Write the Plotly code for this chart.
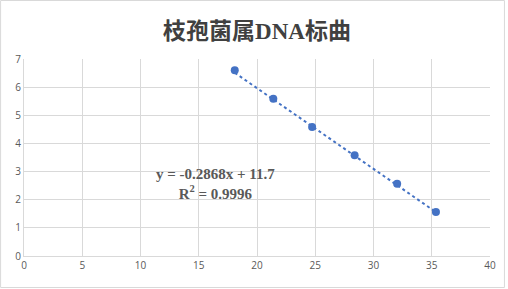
import plotly.graph_objects as go

title = "枝孢菌属DNA标曲"
ct_values = [18.09, 21.40, 24.73, 28.38, 32.03, 35.36]
log_values = [6.60, 5.59, 4.58, 3.58, 2.57, 1.56]
slope, intercept = -0.2868, 11.7
eq_text = "y = -0.2868x + 11.7"
r2_text = "R<sup>2</sup> = 0.9996"
x_ticks = [0, 5, 10, 15, 20, 25, 30, 35, 40]
y_ticks = [0, 1, 2, 3, 4, 5, 6, 7]

W, H = 508, 289
ml, mr, mt, mb = 24, 16, 59, 33
pw, ph = W - ml - mr, H - mt - mb

xl = [min(ct_values), max(ct_values)]
yl = [slope * v + intercept for v in xl]

fig = go.Figure()
fig.add_trace(go.Scatter(x=xl, y=yl, mode="lines",
                         line=dict(color="#4472C4", width=2, dash="dot"),
                         hoverinfo="skip", showlegend=False))
fig.add_trace(go.Scatter(x=ct_values, y=log_values, mode="markers",
                         marker=dict(color="#4472C4", size=8),
                         showlegend=False))

fig.add_annotation(x=(216 - ml) / pw, y=(H - mb - 184) / ph, xref="paper", yref="paper",
                   text="<b>" + eq_text + "</b><br><b>" + r2_text + "</b>",
                   showarrow=False, align="center", xanchor="center", yanchor="middle",
                   font=dict(family="Liberation Serif", size=15, color="#595959"))

# outer border
fig.add_shape(type="rect", xref="paper", yref="paper",
              x0=(0.5 - ml) / pw, x1=(W - 1.5 - ml) / pw,
              y0=-(mb - 1.5) / ph,
              y1=(H - mb - 0.5) / ph,
              line=dict(color="#D9D9D9", width=1))

fig.update_layout(
    width=W, height=H,
    margin=dict(l=ml, r=mr, t=mt, b=mb),
    paper_bgcolor="white", plot_bgcolor="white",
    title=dict(text="<b>" + title + "</b>", x=0.5, xref="paper", xanchor="center",
               y=1 - 31 / H, yanchor="middle",
               font=dict(family="Liberation Serif, Noto Sans CJK SC", size=23, color="#404040")),
    xaxis=dict(range=[0, 40], tickvals=x_ticks, showgrid=True, gridcolor="#D9D9D9",
               zeroline=False, showline=True, linecolor="#D9D9D9", mirror=False,
               ticks="", tickfont=dict(family="Open Sans", size=10, color="#595959"),
               fixedrange=True),
    yaxis=dict(range=[0, 7], tickvals=y_ticks, showgrid=True, gridcolor="#D9D9D9",
               zeroline=False, showline=True, linecolor="#D9D9D9",
               ticks="", tickfont=dict(family="Open Sans", size=10, color="#595959"),
               fixedrange=True),
)
fig.write_html("out.html")
